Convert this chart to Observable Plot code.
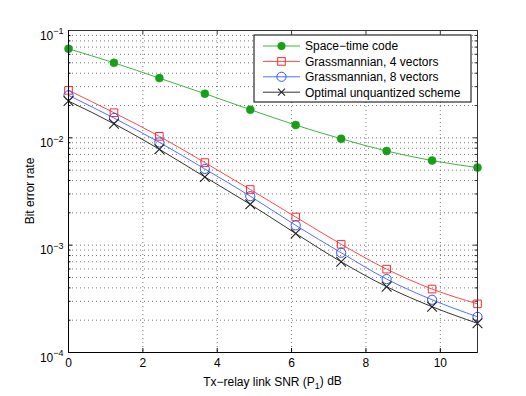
<!DOCTYPE html>
<html><head><meta charset="utf-8">
<script src="https://cdn.jsdelivr.net/npm/d3@7"></script>
<script src="https://cdn.jsdelivr.net/npm/@observablehq/plot@0.6"></script>
<style>
html,body{margin:0;padding:0;background:#fff;}
svg{font-family:"Liberation Sans",Arial,sans-serif;display:block;}
</style>
</head><body>
<div id="chart"></div>
<script>
const snr = [0, 1.222, 2.444, 3.667, 4.889, 6.111, 7.333, 8.556, 9.778, 11];
const spaceTime = [0.0676, 0.050, 0.036, 0.0258, 0.0183, 0.01315, 0.0098, 0.00754, 0.00614, 0.00528];
const grass4 = [0.0277, 0.01715, 0.01033, 0.00588, 0.0033, 0.00183, 0.00102, 0.000598, 0.00039, 0.000284];
const grass8 = [0.0249, 0.0153, 0.00908, 0.00513, 0.00286, 0.00153, 0.00085, 0.000483, 0.00031, 0.000215];
const optimal = [0.022, 0.01355, 0.00782, 0.00432, 0.0024, 0.001285, 0.0007, 0.00041, 0.000267, 0.000187];
const seriesNames = ["Space\u2212time code", "Grassmannian, 4 vectors", "Grassmannian, 8 vectors", "Optimal unquantized scheme"];
const xTicks = [0, 2, 4, 6, 8, 10];
const yTicks = [1e-4, 1e-3, 1e-2, 1e-1];
const yExponents = [-4, -3, -2, -1];
const yMinor = [];
for (const d of [1e-4, 1e-3, 1e-2]) for (let k = 2; k <= 9; k++) yMinor.push(d * k);

const colors = ["#15a015", "#ff2a2a", "#2f55ff", "#222222"];
const lineColors = ["#3cb83c", "#ff4a4a", "#5070ff", "#333333"];

const W = 526, H = 396, mL = 68, mR = 49, mT = 30, mB = 44;
const plotH = H - mT - mB, plotW = W - mL - mR;

const rows = (ys, s) => snr.map((x, i) => ({x, y: ys[i], s}));
const d0 = rows(spaceTime, 0), d1 = rows(grass4, 1), d2 = rows(grass8, 2), d3s = rows(optimal, 3);
const grid = {stroke: "#555", strokeDasharray: "1,3", strokeWidth: 0.8};

const chart = Plot.plot({
  width: W, height: H,
  marginLeft: mL, marginRight: mR, marginTop: mT, marginBottom: mB,
  style: {fontFamily: "Liberation Sans, Arial, sans-serif", fontSize: "12px", background: "white", color: "black"},
  x: {domain: [0, 11]},
  y: {type: "log", domain: [1e-4, 1e-1]},
  marks: [
    Plot.ruleY(yMinor, grid),
    Plot.ruleY(yTicks.slice(1, 3), grid),
    Plot.ruleX(xTicks.slice(1), grid),
    Plot.ruleX(xTicks, {stroke: "black", insetTop: plotH - 4}),
    Plot.ruleX(xTicks, {stroke: "#333", insetBottom: plotH - 4}),
    Plot.ruleY(yTicks, {stroke: "black", x1: 0, x2: 11, insetRight: plotW - 4}),
    Plot.ruleY(yTicks, {stroke: "#333", x1: 0, x2: 11, insetLeft: plotW - 4}),
    Plot.ruleY(yMinor, {stroke: "black", x1: 0, x2: 11, insetRight: plotW - 2.5}),
    Plot.ruleY(yMinor, {stroke: "#333", x1: 0, x2: 11, insetLeft: plotW - 2.5}),
    Plot.axisX({ticks: xTicks, tickSize: 0, tickPadding: 6, label: null, fontSize: 12}),
    Plot.axisY({ticks: yTicks, tickSize: 0, tickPadding: 5, label: null, fontSize: 12,
      tickFormat: d => "10^" + yExponents[yTicks.indexOf(d)]}),
    Plot.line(d0, {x: "x", y: "y", stroke: lineColors[0], curve: "monotone-x", strokeWidth: 1}),
    Plot.line(d1, {x: "x", y: "y", stroke: lineColors[1], curve: "monotone-x", strokeWidth: 1}),
    Plot.line(d2, {x: "x", y: "y", stroke: lineColors[2], curve: "monotone-x", strokeWidth: 1}),
    Plot.line(d3s, {x: "x", y: "y", stroke: lineColors[3], curve: "monotone-x", strokeWidth: 1}),
    Plot.dot(d0, {x: "x", y: "y", r: 4, fill: colors[0], stroke: colors[0], strokeWidth: 0.5}),
    Plot.dot(d1, {x: "x", y: "y", r: 4.3, symbol: "square", fill: "none", stroke: colors[1], strokeWidth: 1}),
    Plot.dot(d2, {x: "x", y: "y", r: 4.6, symbol: "circle", fill: "none", stroke: colors[2], strokeWidth: 1}),
    Plot.dot(d3s, {x: "x", y: "y", r: 4.5, symbol: "times", fill: "none", stroke: colors[3], strokeWidth: 1.1}),
    Plot.frame({stroke: "#333", strokeWidth: 1}),
    Plot.ruleX([0], {stroke: "black", strokeWidth: 1}),
    Plot.ruleY([1e-4], {stroke: "black", strokeWidth: 1})
  ]
});
document.getElementById("chart").appendChild(chart);
const svg = d3.select(chart);

// superscript tick labels
svg.selectAll("text").each(function() {
  const t = d3.select(this);
  const s = t.text();
  if (s.startsWith("10^")) {
    const e = s.slice(3).replace("-", "\u2212");
    t.text(null);
    t.attr("dy", "0.45em");
    t.append("tspan").text("10");
    t.append("tspan").attr("dy", "-0.6em").attr("font-size", "9px").text(e);
  }
});

// axis labels
const xl = svg.append("text").attr("x", mL + plotW / 2).attr("y", 386)
  .attr("text-anchor", "middle").attr("font-size", 12).attr("fill", "black");
xl.append("tspan").text("Tx\u2212relay link SNR (P");
xl.append("tspan").attr("dy", "0.35em").attr("font-size", 9).text("1");
xl.append("tspan").attr("dy", "-0.35em").text(") dB");
svg.append("text").attr("transform", `translate(34,${mT + plotH / 2}) rotate(-90)`)
  .attr("text-anchor", "middle").attr("font-size", 12).attr("fill", "black").text("Bit error rate");

// legend
const lg = svg.append("g").attr("text-anchor", "start");
const lx = 254, ly = 35, lw = 217, lh = 67;
lg.append("rect").attr("x", lx).attr("y", ly).attr("width", lw).attr("height", lh)
  .attr("fill", "white").attr("stroke", "black").attr("stroke-width", 1);
seriesNames.forEach((name, i) => {
  const y = ly + 11 + i * 15.4;
  lg.append("line").attr("x1", lx + 9).attr("x2", lx + 46).attr("y1", y).attr("y2", y)
    .attr("stroke", lineColors[i]).attr("stroke-width", 1);
  const cx = lx + 27.5;
  if (i === 0) lg.append("circle").attr("cx", cx).attr("cy", y).attr("r", 4).attr("fill", colors[0]);
  if (i === 1) lg.append("rect").attr("x", cx - 3.8).attr("y", y - 3.8).attr("width", 7.6).attr("height", 7.6)
    .attr("fill", "none").attr("stroke", colors[1]);
  if (i === 2) lg.append("circle").attr("cx", cx).attr("cy", y).attr("r", 4.6).attr("fill", "none").attr("stroke", colors[2]);
  if (i === 3) lg.append("path").attr("d", `M${cx-3.5},${y-3.5}L${cx+3.5},${y+3.5}M${cx-3.5},${y+3.5}L${cx+3.5},${y-3.5}`)
    .attr("stroke", colors[3]).attr("stroke-width", 1.1);
  lg.append("text").attr("x", lx + 51).attr("y", y).attr("dy", "0.36em").attr("text-anchor", "start")
    .attr("font-size", 12).attr("fill", "black").text(name);
});
</script>
</body></html>
